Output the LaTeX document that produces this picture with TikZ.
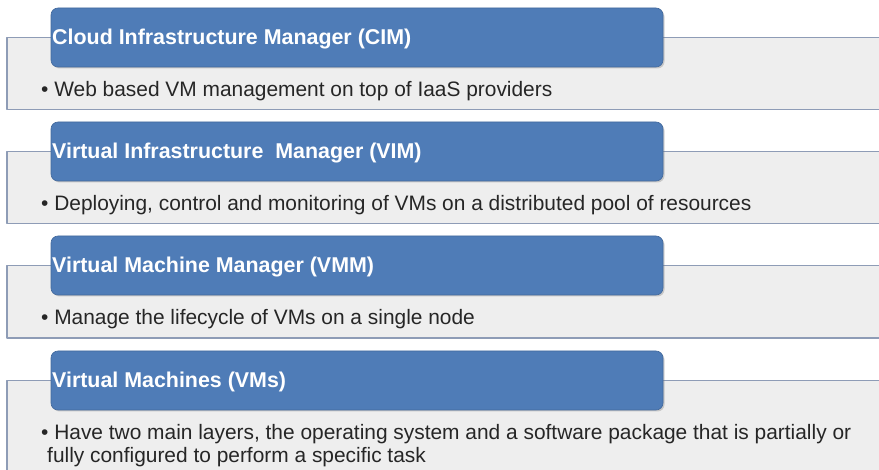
\documentclass[tikz,border=0pt]{standalone}
\usepackage{fontspec}
\setmainfont{Liberation Sans}
\usetikzlibrary{shadows}
\definecolor{hdrblue}{HTML}{4F7CB7}
\definecolor{bandgray}{HTML}{EEEEEE}
\definecolor{bandline}{HTML}{8E9CB6}
\begin{document}
\begin{tikzpicture}[x=1pt, y=-1pt, line join=round, line cap=round,
    band/.style={fill=bandgray, draw=bandline, line width=1.3pt},
    header/.style={fill=hdrblue, draw=hdrblue!85!black, line width=0.6pt, rounded corners=7pt,
        drop shadow={shadow xshift=1.5pt, shadow yshift=-1.5pt, opacity=0.35}},
    title/.style={anchor=base west, inner sep=0pt, text=white, font=\fontsize{21.4}{25}\selectfont\bfseries},
    item/.style={anchor=base west, inner sep=0pt, text=black!85, align=left, font=\fontsize{20.9}{25}\selectfont}]
    \useasboundingbox (0,0) rectangle (879,470);
    \clip (0,0) rectangle (879,470);
    \def\xl{7} \def\xr{890} % band ends
    \def\hl{51} \def\hr{663} % header ends
    \foreach \t/\b in {8/109.5, 122/223.5, 236/338, 351/490}{
        \draw[band] (\xl,\t+29.5) rectangle (\xr,\b);
        \draw[header] (\hl,\t) rectangle (\hr,\t+59);
    }
    \node[title] (cim) at (52,45) {Cloud Infrastructure Manager (CIM)};
    \node[item] (cimtxt) at (41,97) {\textbullet{} Web based VM management on top of IaaS providers};
    \node[title] (vim) at (52,159) {Virtual Infrastructure\ \ Manager (VIM)};
    \node[item] (vimtxt) at (41,211) {\textbullet{} Deploying, control and monitoring of VMs on a distributed pool of resources};
    \node[title] (vmm) at (52,273) {Virtual Machine Manager (VMM)};
    \node[item] (vmmtxt) at (41,325) {\textbullet{} Manage the lifecycle of VMs on a single node};
    \node[title] (vms) at (52,388) {Virtual Machines (VMs)};
    % base of a two-line node is the last line
    \node[item] (vmstxt) at (41,463) {\textbullet{} Have two main layers, the operating system and a software package that is partially or\\[-2pt]\hspace{6pt}fully configured to perform a specific task};
\end{tikzpicture}
\end{document}
